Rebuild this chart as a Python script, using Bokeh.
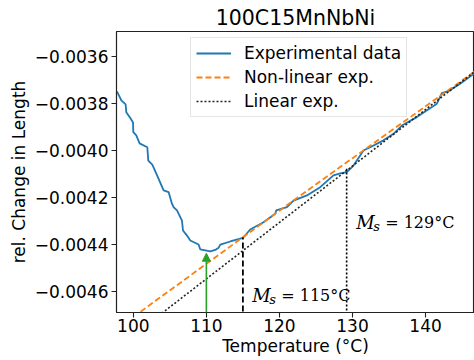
from bokeh.plotting import figure
from bokeh.models import (Range1d, FixedTicker, Legend, LegendItem, Label, Arrow,
                          NormalHead, Title)
from bokeh.embed import file_html
from bokeh.resources import INLINE

# ---- data ----
exp_T = [97.50, 97.81, 98.36, 98.95, 99.04, 99.63, 99.96, 100.00, 100.41, 100.86,
         101.92, 102.05, 102.60, 103.15, 104.15, 104.83, 105.29, 105.51, 105.98, 106.66,
         106.80, 107.35, 107.80, 108.93, 109.17, 110.53, 111.22, 111.67, 111.90, 113.27,
         114.87, 115.09, 116.00, 117.82, 119.43, 119.56, 121.03, 121.93, 123.76, 125.58,
         127.40, 128.32, 129.23, 130.14, 131.05, 131.50, 132.42, 134.24, 135.61, 136.76,
         138.81, 141.55, 142.23, 143.13, 144.73, 146.70]
exp_V_milli = [-3.745, -3.752, -3.787, -3.804, -3.837, -3.864, -3.881, -3.922, -3.936, -3.970,
               -3.986, -4.043, -4.060, -4.098, -4.170, -4.177, -4.226, -4.241, -4.255, -4.298,
               -4.340, -4.362, -4.383, -4.400, -4.421, -4.429, -4.423, -4.414, -4.400, -4.387,
               -4.373, -4.369, -4.336, -4.305, -4.269, -4.255, -4.241, -4.213, -4.191, -4.156,
               -4.106, -4.097, -4.092, -4.064, -4.021, -4.000, -3.986, -3.957, -3.929, -3.894,
               -3.858, -3.801, -3.756, -3.748, -3.716, -3.672]

nl_T = [100, 110, 120, 130, 140, 148]
nl_V_milli = [-4.708, -4.482, -4.256, -4.033, -3.812, -3.636]

lin_T = [100, 148]
lin_V_milli = [-4.786, -3.634]

ms_T = [115.0, 129.2]
ms_top_milli = [-4.370, -4.078]
ms_names = ["115", "129"]

arrow_T = 110.0
arrow_tip_milli = -4.437

x_ticks = [100, 110, 120, 130, 140]
y_ticks = [-0.0046, -0.0044, -0.0042, -0.0040, -0.0038, -0.0036]
y_tick_labels = ["\u22120.0046", "\u22120.0044", "\u22120.0042", "\u22120.0040",
                 "\u22120.0038", "\u22120.0036"]

title_text = "100C15MnNbNi"
x_label = "Temperature (\u00b0C)"
y_label = "rel. Change in Length"
legend_labels = ["Experimental data", "Non-linear exp.", "Linear exp."]

exp_V = [v * 1e-3 for v in exp_V_milli]
nl_V = [v * 1e-3 for v in nl_V_milli]
lin_V = [v * 1e-3 for v in lin_V_milli]
ms_top = [v * 1e-3 for v in ms_top_milli]

FONT = "DejaVu Sans"
FS = "17px"

p = figure(width=474, height=360, output_backend="svg", toolbar_location=None,
           x_range=Range1d(97.7, 146.7), y_range=Range1d(-0.004689, -0.003494),
           min_border_left=116, min_border_right=0, min_border_top=31,
           min_border_bottom=48)
p.title = Title(text=title_text, align="center", text_font=FONT,
                text_font_size="20.5px", text_font_style="normal",
                text_color="black", standoff=4, offset=0)
p.grid.visible = False
p.outline_line_color = "#222222"
p.outline_line_width = 1.1
p.background_fill_color = "white"
p.border_fill_color = "white"

for ax in (p.xaxis[0], p.yaxis[0]):
    ax.axis_line_color = "#222222"
    ax.axis_line_width = 1.1
    ax.major_tick_line_color = "#222222"
    ax.major_tick_line_width = 1.1
    ax.major_tick_out = 5
    ax.major_tick_in = 0
    ax.minor_tick_line_color = None
    ax.major_label_text_font = FONT
    ax.major_label_text_font_size = FS
    ax.major_label_text_color = "black"
    ax.axis_label_text_font = FONT
    ax.axis_label_text_font_size = FS
    ax.axis_label_text_font_style = "normal"
    ax.axis_label_text_color = "black"

p.xaxis.ticker = FixedTicker(ticks=x_ticks)
p.yaxis.ticker = FixedTicker(ticks=y_ticks)
p.yaxis.major_label_overrides = {t: s for t, s in zip(y_ticks, y_tick_labels)}
p.xaxis.axis_label = x_label
p.yaxis.axis_label = y_label
p.xaxis.major_label_standoff = 1
p.yaxis.major_label_standoff = 3
p.xaxis.axis_label_standoff = 1
p.yaxis.axis_label_standoff = 3

r_exp = p.line(exp_T, exp_V, line_color="#1f77b4", line_width=1.8)
r_nl = p.line(nl_T, nl_V, line_color="#ff7f0e", line_width=1.8, line_dash="6 3")
r_lin = p.line(lin_T, lin_V, line_color="#222222", line_width=1.6, line_dash="2 2")

# Ms vertical lines
bottom = -0.0048
p.segment(x0=[ms_T[0]], y0=[bottom], x1=[ms_T[0]], y1=[ms_top[0]],
          line_color="black", line_width=1.8, line_dash="6 3")
p.segment(x0=[ms_T[1]], y0=[bottom], x1=[ms_T[1]], y1=[ms_top[1]],
          line_color="black", line_width=1.6, line_dash="2 2")

# green arrow
p.add_layout(Arrow(end=NormalHead(size=8, fill_color="#2ca02c", line_color="#2ca02c"),
                   x_start=arrow_T, y_start=-0.004689, x_end=arrow_T, y_end=arrow_tip_milli * 1e-3,
                   line_color="#2ca02c", line_width=1.6))

# Ms labels
label_pos = [(116.28, -0.004615), (130.5, -0.004306)]
for (lx, ly), name in zip(label_pos, ms_names):
    p.add_layout(Label(x=lx, y=ly, text="M", text_font="DejaVu Serif",
                       text_font_style="italic", text_font_size="18px",
                       text_baseline="alphabetic", text_color="black"))
    p.add_layout(Label(x=lx, y=ly, x_offset=17, y_offset=-4, text="s",
                       text_font="DejaVu Serif", text_font_style="italic",
                       text_font_size="13px", text_baseline="alphabetic",
                       text_color="black"))
    p.add_layout(Label(x=lx, y=ly, x_offset=29, text="= " + name + "\u00b0C",
                       text_font="DejaVu Serif", text_font_size="16px",
                       text_baseline="alphabetic", text_color="black"))

legend = Legend(items=[LegendItem(label=legend_labels[0], renderers=[r_exp]),
                       LegendItem(label=legend_labels[1], renderers=[r_nl]),
                       LegendItem(label=legend_labels[2], renderers=[r_lin])],
                location=(74, 195), orientation="vertical",
                label_text_font=FONT, label_text_font_size=FS, label_text_color="black",
                glyph_width=35, glyph_height=20, label_height=20, label_standoff=13,
                padding=5, spacing=4, margin=0,
                border_line_color="#cccccc", border_line_width=1,
                background_fill_color="white", background_fill_alpha=0.8)
p.add_layout(legend)

open("out.html", "w").write(file_html(p, INLINE))
